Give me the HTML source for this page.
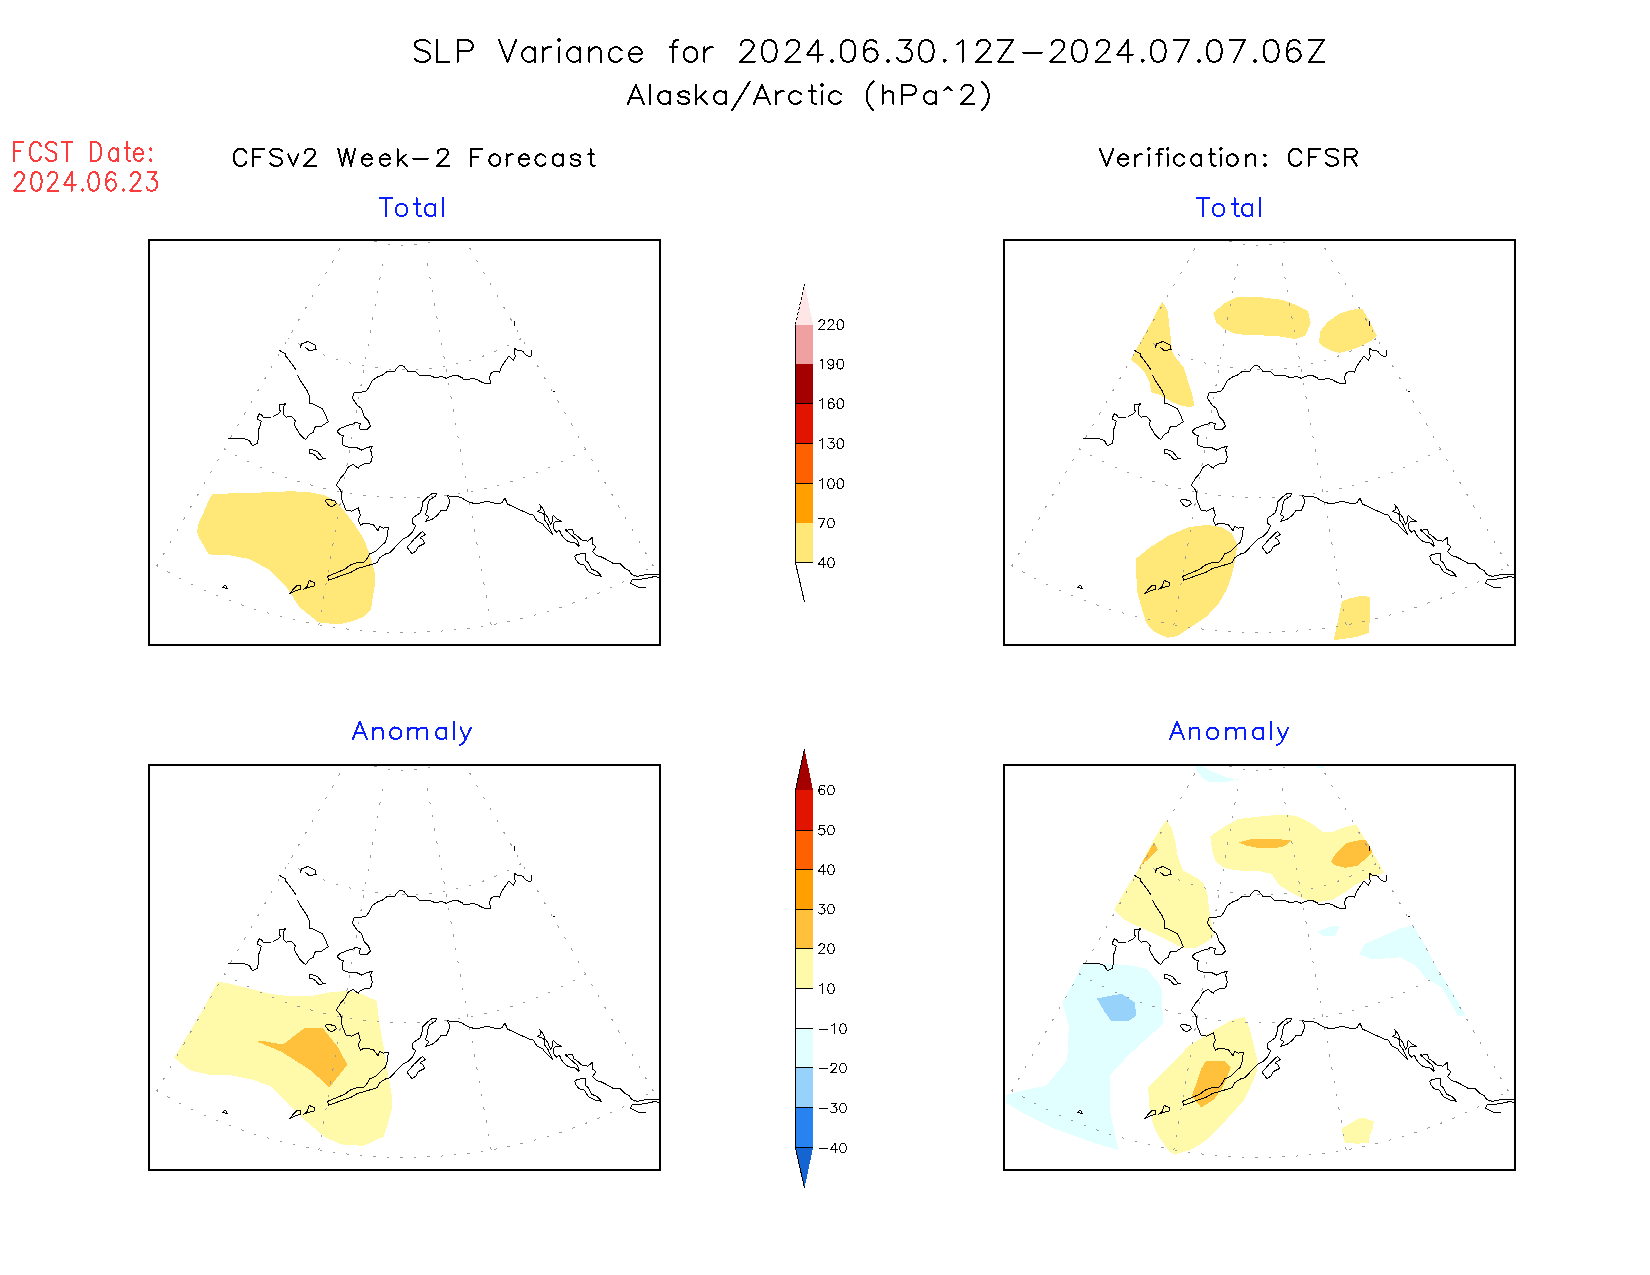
<!DOCTYPE html><html><head><meta charset="utf-8"><style>html,body{margin:0;padding:0;background:#fff;width:1650px;height:1275px;overflow:hidden}svg{display:block}</style></head><body>
<svg width="1650" height="1275" viewBox="0 0 1650 1275">
<rect width="1650" height="1275" fill="#fff"/>
<defs>
<clipPath id="cl"><rect x="150" y="241" width="509" height="403"/></clipPath>
<g id="grid" fill="none" stroke="#9a9a9a" stroke-width="1" stroke-dasharray="2.5 11" shape-rendering="crispEdges"><path d="M350.30,230.74 A109.4,109.4 0 0 0 459.70,230.74" stroke-dashoffset="0.85"/><path d="M288.20,338.30 A233.6,233.6 0 0 0 521.80,338.30" stroke-dashoffset="1.95"/><path d="M224.25,449.07 A361.5,361.5 0 0 0 585.75,449.07" stroke-dashoffset="1.05"/><path d="M156.80,565.90 A496.4,496.4 0 0 0 653.20,565.90" stroke-dashoffset="1.55"/><line x1="345.30" y1="239.40" x2="156.80" y2="565.90" stroke-dashoffset="2.8500000000000014"/><line x1="384.27" y1="253.59" x2="318.80" y2="624.86" stroke-dashoffset="2.9499999999999993"/><line x1="425.73" y1="253.59" x2="491.20" y2="624.86" stroke-dashoffset="3.75"/><line x1="464.70" y1="239.40" x2="653.20" y2="565.90" stroke-dashoffset="3.25"/></g>
<g id="coast" fill="none" stroke="#000" stroke-width="1" stroke-linejoin="round" shape-rendering="crispEdges"><polyline points="300.2,347.6 301.8,343.7 307.8,341.5 315.0,344.8 316.1,349.8 308.9,350.3 305.1,347.0"/><polyline points="279.3,350.3 283.1,352.5 285.3,353.6 285.9,356.4 289.2,360.2 295.8,369.5"/><polyline points="297.4,375.0 300.2,380.5 306.7,389.8 309.5,395.9 309.5,403.0 313.3,404.1 322.7,409.1 325.4,414.6 328.2,421.7 321.0,426.6 315.5,426.1 313.3,432.1 308.9,434.9 305.6,439.8 300.2,434.9 294.7,425.5 295.2,420.6 291.9,416.7 288.1,416.7 286.4,417.3 283.7,414.6 283.1,406.9 285.9,403.6 279.8,404.7 279.3,408.0 280.4,411.8 277.1,414.6 272.7,416.7"/><polyline points="270.5,417.3 263.4,417.3 261.2,414.6 259.5,413.5 257.3,417.8 257.9,419.5 261.2,421.1 260.6,424.4 258.4,430.0 257.9,443.1 252.4,445.8 249.6,440.9 243.6,438.2 228.2,438.2"/><polyline points="310.0,449.1 313.9,450.2 317.7,451.9 322.7,457.9 325.4,458.5 318.8,459.6 316.1,456.3 313.3,454.1 309.5,453.0 310.0,449.1"/><polyline points="531.4,350.0 531.4,356.0 527.5,356.0 524.8,353.8 522.6,351.1 517.1,350.0 514.4,348.3 514.4,353.8 515.5,356.0 513.3,360.4 508.9,356.0 501.7,366.4 499.5,372.5 497.9,371.4 493.5,371.4 490.7,373.6 489.6,378.0 490.7,383.5 485.3,383.5 479.8,381.3 477.0,379.3 471.0,378.2 469.3,379.3 463.3,379.3 462.3,377.8 456.8,375.2 450.8,376.3 446.4,378.3 442.0,376.7 434.3,377.4 430.5,375.6 419.5,375.2 415.6,371.5 408.0,371.5 403.6,366.2 399.7,365.1 395.3,369.5 394.8,371.5 387.1,371.5 382.7,375.0 377.8,376.7 372.3,380.5 369.0,387.1 366.2,390.9 361.8,392.0 354.2,392.6 352.5,398.1 357.5,405.8 361.3,408.0 364.0,416.2 368.4,421.1 370.6,426.1 367.3,429.4 360.2,429.4 359.1,426.1 360.7,423.9 355.8,422.2 353.1,423.9 347.6,425.5 340.4,428.3 337.1,431.6 340.4,434.9 343.7,436.0 342.1,438.7 342.6,444.8 345.4,446.4 349.8,447.5 357.5,448.0 361.8,450.2 367.3,447.5 372.3,446.4 370.6,449.7 372.3,457.4 370.6,462.9 365.2,463.6 359.6,466.2 358.1,468.3 352.9,464.4 348.0,467.4 345.0,473.2 340.6,478.1 336.2,485.3 339.5,488.5 341.2,491.8 341.7,499.5 346.1,510.5 352.2,511.1 358.2,507.8 360.4,514.9 358.2,519.8 360.4,525.3 363.1,523.7 368.6,523.7 373.6,524.8 378.0,530.8 379.6,526.4 383.5,528.1 388.4,527.5 387.8,530.8 387.3,536.3 385.6,541.8 375.8,551.1 369.7,553.9 366.4,559.4 363.7,562.1 357.1,562.7 349.4,565.4 345.6,568.7 343.4,569.8 327.5,576.4 328.5,580.2 351.6,572.0 357.1,568.7 371.9,564.3 376.9,562.7 379.6,557.7 386.7,553.3 390.0,552.8 395.5,546.7 403.8,538.5 407.6,536.9 412.6,531.9 415.8,525.3 412.0,523.1 412.0,519.3 414.2,517.1 420.2,512.7 421.9,508.3 422.7,501.8 428.2,496.4 432.1,493.6 436.5,493.6 435.4,496.4 429.9,499.6 428.2,501.8 427.7,508.4 425.5,514.5 428.8,516.7 425.5,521.6 432.1,519.4 437.6,515.0 441.4,510.1 446.4,510.1 449.1,504.0 449.1,499.6 447.5,495.3 450.2,496.9 454.0,496.4 457.9,496.4 462.8,498.5 468.3,501.8 476.0,504.0 482.6,502.4 487.5,501.3 495.8,503.5 501.8,502.9 505.1,498.0 507.3,504.0 512.2,506.2 516.6,508.4 526.5,512.8 530.0,514.4 532.5,514.4 533.8,515.9 536.6,520.6 537.7,521.4 542.6,523.6 544.3,526.1 553.1,535.1 552.0,532.9 548.1,524.7 544.8,520.3 544.3,514.8 542.6,513.2 539.6,512.4 537.4,511.5 539.9,510.2 540.4,508.2 541.0,506.6 539.3,504.4 541.5,506.6 543.7,509.9 544.5,513.2 548.1,518.1 550.3,524.2 552.2,522.0 552.5,517.0 553.3,515.4 556.9,518.9 561.6,521.4 555.3,521.4 553.3,524.2 553.3,528.0 555.5,531.3 556.4,532.4 556.9,531.3 559.6,530.5 561.6,535.1 566.5,540.6 570.4,542.3 574.5,542.3 578.9,546.4 579.4,545.6 576.7,539.3 575.0,538.4 568.4,532.4 564.6,529.4"/><polyline points="564.6,529.4 567.3,530.2 570.6,529.4 572.5,529.6 573.9,533.8 576.1,535.1 579.4,537.9 582.2,540.4 586.5,540.4 587.6,541.5 592.3,537.3 592.3,544.5 594.8,545.3 595.6,546.9 594.0,549.7 592.3,551.6 595.9,554.9 598.6,556.3 600.0,556.3 605.2,558.8 612.6,563.1 619.5,563.1 624.2,567.8 629.0,570.5 631.7,574.7 637.5,576.3 648.6,574.2 656.0,574.2 660.0,575.2"/><polyline points="574.5,556.2 577.1,554.6 585.1,553.0 585.1,560.4 587.7,562.0 592.0,569.4 597.2,571.5 601.5,576.3 595.6,575.2 588.2,571.5 584.5,565.2 578.7,563.6 576.1,559.9 574.5,556.2"/><polyline points="660.0,578.4 656.0,576.3 643.3,578.9 631.7,580.0 630.6,583.2 638.5,587.4 646.0,587.4"/><polyline points="422.4,531.4 425.2,534.7 419.7,538.0 422.4,539.1 424.6,543.5 418.0,546.7 415.8,551.1 412.0,553.9 407.1,547.3 414.2,539.1 422.4,531.4"/><polyline points="324.7,500.6 328.0,499.0 335.7,501.2 336.2,503.9 331.8,506.7 329.1,505.6 324.7,500.6"/><polyline points="289.3,593.8 294.9,587.4 297.5,585.2 300.5,585.6 300.5,589.1 294.9,591.2 289.3,593.8"/><polyline points="303.1,589.5 307.0,586.5 309.1,580.5 314.7,582.6 313.9,586.5 307.8,587.4 303.1,589.5"/><polyline points="222.4,587.4 225.4,585.2 227.6,588.7 222.4,587.4"/><polyline points="514.4,320.9 514.4,326.4"/><polyline points="553.3,392.2 554.5,391.2"/></g>
</defs>
<g transform="translate(0,0)">
<g clip-path="url(#cl)">
<polygon fill="#ffe878" points="212.2,494.2 236.8,493.1 274.2,492.2 290.0,491.2 309.0,492.2 320.0,494.2 325.3,495.7 336.2,501.7 343.9,510.5 354.0,523.6 363.9,539.2 370.9,557.5 375.2,574.5 374.5,587.2 372.4,599.9 370.9,609.8 363.9,616.8 352.6,621.1 341.3,623.9 329.4,623.6 318.2,622.3 299.2,606.8 286.3,586.9 275.9,576.1 269.1,569.7 249.6,559.1 230.0,555.3 208.8,554.4 199.5,538.7 197.0,531.9 198.2,524.3 202.9,514.1 207.2,503.9" shape-rendering="crispEdges"/>
<use href="#grid"/>
<use href="#coast"/>
</g>
<rect x="149" y="240" width="511" height="405" fill="none" stroke="#000" stroke-width="2"/>
</g>
<g transform="translate(855,0)">
<g clip-path="url(#cl)">
<polygon fill="#ffe878" points="307.5,301.8 312.5,310.5 314.1,322.7 315.7,337.5 317.4,352.2 321.5,358.7 328.8,367.7 332.1,378.4 337.0,393.1 339.5,406.2 333.7,407.0 325.5,405.4 319.0,402.9 310.0,398.0 304.3,394.7 296.1,392.3 294.5,381.6 289.5,371.8 283.0,365.3 275.6,359.5 279.7,352.2 287.9,337.5 296.1,322.7 303.5,308.0" shape-rendering="crispEdges"/>
<polygon fill="#ffe878" points="358.3,312.9 369.7,303.1 382.8,296.5 399.2,296.5 427.0,299.8 438.5,303.9 453.2,311.3 455.6,322.7 453.2,329.3 449.9,335.8 440.1,339.1 420.5,335.8 391.0,335.0 379.5,333.4 368.1,328.5 361.5,322.7" shape-rendering="crispEdges"/>
<polygon fill="#ffe878" points="463.8,342.4 465.5,330.9 472.8,321.9 484.3,313.7 497.4,309.6 507.2,308.8 513.7,319.5 521.9,335.8 515.4,341.5 503.9,347.3 494.1,350.5 484.3,353.0 476.1,350.5 467.9,346.5" shape-rendering="crispEdges"/>
<polygon fill="#ffe878" points="281.4,558.4 294.5,547.7 314.1,535.5 333.7,527.3 351.7,524.8 366.5,527.3 376.3,533.0 382.0,543.6 381.2,554.3 378.7,567.4 376.3,577.2 371.4,590.3 363.2,604.2 351.7,616.5 337.0,626.3 322.3,636.1 312.5,637.7 299.4,632.0 291.2,623.0 286.3,606.6 282.2,591.9 281.4,577.2" shape-rendering="crispEdges"/>
<polygon fill="#ffe878" points="477.7,643.0 482.6,623.0 486.7,601.7 494.1,598.5 505.6,596.0 515.4,596.8 515.4,613.2 513.7,632.8 502.3,636.9 491.0,638.5 478.6,640.2" shape-rendering="crispEdges"/>
<use href="#grid"/>
<use href="#coast"/>
</g>
<rect x="149" y="240" width="511" height="405" fill="none" stroke="#000" stroke-width="2"/>
</g>
<g transform="translate(0,525)">
<g clip-path="url(#cl)">
<polygon fill="#fffaaa" points="217.5,457.1 226.2,457.8 248.2,463.4 270.3,468.9 289.2,471.2 314.4,470.5 330.2,467.3 349.1,465.7 363.3,469.7 376.7,476.0 379.0,494.9 383.8,523.2 388.5,551.6 392.4,573.7 391.6,584.7 386.9,602.0 383.8,611.5 363.3,620.9 341.2,619.4 323.9,611.5 301.8,592.6 282.9,573.7 270.3,561.1 253.0,554.8 229.3,550.0 210.4,550.0 189.9,545.3 174.2,532.7 183.6,516.9 202.5,485.4" shape-rendering="crispEdges"/>
<polygon fill="#ffc03c" points="258.0,516.3 264.7,516.3 278.0,518.7 284.0,518.7 304.7,503.0 322.7,503.0 338.0,522.3 347.3,539.7 329.3,562.7 311.3,545.7 282.0,527.0 258.0,517.0" shape-rendering="crispEdges"/>
<use href="#grid"/>
<use href="#coast"/>
</g>
<rect x="149" y="240" width="511" height="405" fill="none" stroke="#000" stroke-width="2"/>
</g>
<g transform="translate(855,525)">
<g clip-path="url(#cl)">
<polygon fill="#fffaaa" points="311.5,295.1 316.5,302.6 320.3,316.4 322.8,331.5 327.8,345.3 342.9,353.4 347.9,357.8 352.3,367.9 354.2,385.5 358.0,405.5 359.2,410.6 353.0,416.2 340.4,423.1 326.6,422.5 315.3,416.8 297.7,408.0 281.4,400.5 268.8,394.2 258.8,384.8 270.1,365.4 282.7,345.3 297.7,316.4 305.2,303.9" shape-rendering="crispEdges"/>
<polygon fill="#ffc03c" points="283.3,344.0 291.4,330.2 299.0,317.0 302.7,324.6 297.7,330.2 288.9,337.8" shape-rendering="crispEdges"/>
<polygon fill="#fffaaa" points="355.3,311.4 369.2,301.7 383.8,293.8 411.7,290.8 427.4,289.8 440.8,290.8 454.1,296.8 467.4,306.5 478.3,306.8 490.5,301.7 501.4,299.8 514.7,322.3 529.2,347.7 520.8,350.8 514.7,352.6 500.2,359.8 490.5,367.1 478.3,374.4 463.8,376.8 451.7,375.6 437.1,368.3 423.8,359.8 416.5,348.9 405.6,346.5 381.4,345.3 369.2,342.9 360.8,336.8 357.1,325.9" shape-rendering="crispEdges"/>
<polygon fill="#ffc03c" points="383.8,317.4 395.9,314.4 417.7,314.0 437.1,315.0 429.8,321.1 417.7,323.5 403.2,322.9 391.1,320.5" shape-rendering="crispEdges"/>
<polygon fill="#ffc03c" points="475.9,336.8 480.8,328.3 490.5,318.6 501.4,315.6 511.1,315.0 517.7,327.1 512.3,332.6 502.6,340.5 490.5,342.9 480.8,340.5" shape-rendering="crispEdges"/>
<polygon fill="#e1ffff" points="227.1,439.0 256.7,439.0 276.5,440.6 291.3,443.9 302.8,456.3 307.0,464.5 307.8,499.1 291.3,514.0 273.2,530.4 255.1,550.2 255.1,586.4 263.3,625.1 238.6,617.7 197.4,602.9 167.8,588.1 150.5,577.4 151.3,570.0 169.4,565.0 190.8,560.9 212.2,535.4 213.9,500.8 207.3,477.7 217.2,459.6" shape-rendering="crispEdges"/>
<polygon fill="#96d2fa" points="241.9,473.6 266.6,468.7 279.8,477.7 281.4,490.9 274.0,495.8 255.9,495.8 248.5,485.1" shape-rendering="crispEdges"/>
<polygon fill="#fffaaa" points="389.7,492.1 394.4,502.6 397.9,516.8 402.6,536.8 401.5,547.4 395.6,561.5 388.5,575.6 379.1,586.2 367.4,599.1 350.9,615.6 335.6,625.0 319.1,629.7 312.1,623.8 302.6,609.7 297.9,599.1 294.4,581.5 293.2,562.6 302.6,553.2 317.9,537.9 334.4,520.3 350.9,510.3 367.4,500.3 375.6,495.6 383.8,493.2" shape-rendering="crispEdges"/>
<polygon fill="#ffc03c" points="350.9,536.2 369.7,536.2 375.6,542.6 372.1,552.1 367.4,562.6 359.1,574.4 346.2,582.6 336.8,570.9 341.5,557.9 346.2,543.8" shape-rendering="crispEdges"/>
<polygon fill="#e1ffff" points="509.4,419.2 526.8,411.5 545.4,403.4 558.5,400.6 571.5,423.0 583.5,445.9 592.3,459.0 610.8,490.1 603.2,491.2 586.8,462.3 571.5,453.5 560.6,440.5 545.4,432.3 534.5,433.4 515.9,433.9 504.5,429.5" shape-rendering="crispEdges"/>
<polygon fill="#e1ffff" points="462.5,406.6 476.6,401.2 484.8,401.2 479.9,411.5 466.8,410.5" shape-rendering="crispEdges"/>
<polygon fill="#e1ffff" points="340.5,241.0 347.3,241.0 358.0,247.1 373.5,252.9 384.2,254.4 371.5,256.8 354.1,256.8 348.3,253.9 340.5,243.7" shape-rendering="crispEdges"/>
<polygon fill="#e1ffff" points="459.3,243.2 463.7,241.0 468.5,241.0 469.0,243.2" shape-rendering="crispEdges"/>
<polygon fill="#fffaaa" points="487.0,603.2 490.3,601.3 497.9,596.9 504.5,593.1 510.0,593.1 512.8,594.4 518.8,596.4 517.7,603.0 515.0,610.6 513.6,618.3 501.2,618.6 490.3,617.8 488.6,613.9 487.2,606.8" shape-rendering="crispEdges"/>
<use href="#grid"/>
<use href="#coast"/>
</g>
<rect x="149" y="240" width="511" height="405" fill="none" stroke="#000" stroke-width="2"/>
</g>
<g style="font-family:'Liberation Sans', sans-serif" fill="#000">
<rect x="796" y="324.5" width="17" height="39.5" fill="#f0a0a0"/><rect x="796" y="364.0" width="17" height="39.5" fill="#a50000"/><rect x="796" y="403.5" width="17" height="40.0" fill="#e11400"/><rect x="796" y="443.5" width="17" height="40.0" fill="#ff6000"/><rect x="796" y="483.5" width="17" height="39.5" fill="#ffa000"/><rect x="796" y="523.0" width="17" height="40.0" fill="#ffe878"/><polygon points="795,324.5 813,324.5 804.5,284" fill="#ffe6e6" shape-rendering="crispEdges"/><polygon points="795,563 813,563 804.5,602" fill="#ffffff" shape-rendering="crispEdges"/><line x1="795.5" y1="324.5" x2="795.5" y2="563" stroke="#000" stroke-width="1"/><line x1="795.5" y1="324.5" x2="804.5" y2="284" stroke="#000" stroke-width="1" stroke-dasharray="3 2" shape-rendering="crispEdges"/><line x1="795.5" y1="563" x2="804.5" y2="602" stroke="#000" stroke-width="1" shape-rendering="crispEdges"/><line x1="795" y1="403.5" x2="813" y2="403.5" stroke="#000" stroke-width="1"/><line x1="795" y1="443.5" x2="813" y2="443.5" stroke="#000" stroke-width="1"/><line x1="795" y1="483.5" x2="813" y2="483.5" stroke="#000" stroke-width="1"/><line x1="795" y1="562.5" x2="813" y2="562.5" stroke="#000" stroke-width="1"/><path d="M818.99 322.08 L818.99 321.62 L819.45 320.70 L819.91 320.23 L820.84 319.77 L822.68 319.77 L823.61 320.23 L824.07 320.70 L824.53 321.62 L824.53 322.54 L824.07 323.47 L823.15 324.85 L818.52 329.48 L824.99 329.48M828.23 322.08 L828.23 321.62 L828.69 320.70 L829.15 320.23 L830.08 319.77 L831.92 319.77 L832.85 320.23 L833.31 320.70 L833.77 321.62 L833.77 322.54 L833.31 323.47 L832.39 324.85 L827.77 329.48 L834.23 329.48M839.78 319.77 L838.39 320.23 L837.47 321.62 L837.01 323.93 L837.01 325.32 L837.47 327.63 L838.39 329.01 L839.78 329.48 L840.70 329.48 L842.09 329.01 L843.01 327.63 L843.48 325.32 L843.48 323.93 L843.01 321.62 L842.09 320.23 L840.70 319.77 L839.78 319.77" fill="none" stroke="#000" stroke-width="1.05" stroke-linecap="round" stroke-linejoin="round" shape-rendering="crispEdges"/><path d="M819.91 361.12 L820.84 360.66 L822.22 359.27 L822.22 368.98M833.77 362.51 L833.31 363.89 L832.39 364.82 L831.00 365.28 L830.54 365.28 L829.15 364.82 L828.23 363.89 L827.77 362.51 L827.77 362.04 L828.23 360.66 L829.15 359.73 L830.54 359.27 L831.00 359.27 L832.39 359.73 L833.31 360.66 L833.77 362.51 L833.77 364.82 L833.31 367.13 L832.39 368.51 L831.00 368.98 L830.08 368.98 L828.69 368.51 L828.23 367.59M839.78 359.27 L838.39 359.73 L837.47 361.12 L837.01 363.43 L837.01 364.82 L837.47 367.13 L838.39 368.51 L839.78 368.98 L840.70 368.98 L842.09 368.51 L843.01 367.13 L843.48 364.82 L843.48 363.43 L843.01 361.12 L842.09 359.73 L840.70 359.27 L839.78 359.27" fill="none" stroke="#000" stroke-width="1.05" stroke-linecap="round" stroke-linejoin="round" shape-rendering="crispEdges"/><path d="M819.91 400.62 L820.84 400.16 L822.22 398.77 L822.22 408.48M833.77 400.16 L833.31 399.23 L831.92 398.77 L831.00 398.77 L829.61 399.23 L828.69 400.62 L828.23 402.93 L828.23 405.24 L828.69 407.09 L829.61 408.01 L831.00 408.48 L831.46 408.48 L832.85 408.01 L833.77 407.09 L834.23 405.70 L834.23 405.24 L833.77 403.85 L832.85 402.93 L831.46 402.47 L831.00 402.47 L829.61 402.93 L828.69 403.85 L828.23 405.24M839.78 398.77 L838.39 399.23 L837.47 400.62 L837.01 402.93 L837.01 404.32 L837.47 406.63 L838.39 408.01 L839.78 408.48 L840.70 408.48 L842.09 408.01 L843.01 406.63 L843.48 404.32 L843.48 402.93 L843.01 400.62 L842.09 399.23 L840.70 398.77 L839.78 398.77" fill="none" stroke="#000" stroke-width="1.05" stroke-linecap="round" stroke-linejoin="round" shape-rendering="crispEdges"/><path d="M819.91 440.62 L820.84 440.16 L822.22 438.77 L822.22 448.48M828.69 438.77 L833.77 438.77 L831.00 442.47 L832.39 442.47 L833.31 442.93 L833.77 443.39 L834.23 444.78 L834.23 445.70 L833.77 447.09 L832.85 448.01 L831.46 448.48 L830.08 448.48 L828.69 448.01 L828.23 447.55 L827.77 446.63M839.78 438.77 L838.39 439.23 L837.47 440.62 L837.01 442.93 L837.01 444.32 L837.47 446.63 L838.39 448.01 L839.78 448.48 L840.70 448.48 L842.09 448.01 L843.01 446.63 L843.48 444.32 L843.48 442.93 L843.01 440.62 L842.09 439.23 L840.70 438.77 L839.78 438.77" fill="none" stroke="#000" stroke-width="1.05" stroke-linecap="round" stroke-linejoin="round" shape-rendering="crispEdges"/><path d="M819.91 480.62 L820.84 480.16 L822.22 478.77 L822.22 488.48M830.54 478.77 L829.15 479.23 L828.23 480.62 L827.77 482.93 L827.77 484.32 L828.23 486.63 L829.15 488.01 L830.54 488.48 L831.46 488.48 L832.85 488.01 L833.77 486.63 L834.23 484.32 L834.23 482.93 L833.77 480.62 L832.85 479.23 L831.46 478.77 L830.54 478.77M839.78 478.77 L838.39 479.23 L837.47 480.62 L837.01 482.93 L837.01 484.32 L837.47 486.63 L838.39 488.01 L839.78 488.48 L840.70 488.48 L842.09 488.01 L843.01 486.63 L843.48 484.32 L843.48 482.93 L843.01 480.62 L842.09 479.23 L840.70 478.77 L839.78 478.77" fill="none" stroke="#000" stroke-width="1.05" stroke-linecap="round" stroke-linejoin="round" shape-rendering="crispEdges"/><path d="M824.99 518.27 L820.37 527.98M818.52 518.27 L824.99 518.27M830.54 518.27 L829.15 518.73 L828.23 520.12 L827.77 522.43 L827.77 523.82 L828.23 526.13 L829.15 527.51 L830.54 527.98 L831.46 527.98 L832.85 527.51 L833.77 526.13 L834.23 523.82 L834.23 522.43 L833.77 520.12 L832.85 518.73 L831.46 518.27 L830.54 518.27" fill="none" stroke="#000" stroke-width="1.05" stroke-linecap="round" stroke-linejoin="round" shape-rendering="crispEdges"/><path d="M823.15 557.77 L818.52 564.24 L825.46 564.24M823.15 557.77 L823.15 567.48M830.54 557.77 L829.15 558.23 L828.23 559.62 L827.77 561.93 L827.77 563.32 L828.23 565.63 L829.15 567.01 L830.54 567.48 L831.46 567.48 L832.85 567.01 L833.77 565.63 L834.23 563.32 L834.23 561.93 L833.77 559.62 L832.85 558.23 L831.46 557.77 L830.54 557.77" fill="none" stroke="#000" stroke-width="1.05" stroke-linecap="round" stroke-linejoin="round" shape-rendering="crispEdges"/>
<rect x="796" y="790.0" width="17" height="40.0" fill="#e11400"/><rect x="796" y="830.0" width="17" height="39.5" fill="#ff6000"/><rect x="796" y="869.5" width="17" height="39.5" fill="#ffa000"/><rect x="796" y="909.0" width="17" height="39.5" fill="#ffc03c"/><rect x="796" y="948.5" width="17" height="40.0" fill="#fffaaa"/><rect x="796" y="1028.5" width="17" height="39.5" fill="#e1ffff"/><rect x="796" y="1068.0" width="17" height="40.0" fill="#96d2fa"/><rect x="796" y="1108.0" width="17" height="40.0" fill="#2882f0"/><polygon points="795,790 813,790 804.5,749" fill="#a50000" shape-rendering="crispEdges"/><polygon points="795,1148 813,1148 804.5,1188" fill="#1464d2" shape-rendering="crispEdges"/><line x1="795.5" y1="790" x2="795.5" y2="1148" stroke="#000" stroke-width="1"/><line x1="795.5" y1="790" x2="804.5" y2="749" stroke="#000" stroke-width="1" shape-rendering="crispEdges"/><line x1="795.5" y1="1148" x2="804.5" y2="1188" stroke="#000" stroke-width="1" shape-rendering="crispEdges"/><line x1="795" y1="830.5" x2="813" y2="830.5" stroke="#000" stroke-width="1"/><line x1="795" y1="869.5" x2="813" y2="869.5" stroke="#000" stroke-width="1"/><line x1="795" y1="909.5" x2="813" y2="909.5" stroke="#000" stroke-width="1"/><line x1="795" y1="948.5" x2="813" y2="948.5" stroke="#000" stroke-width="1"/><line x1="795" y1="988.5" x2="813" y2="988.5" stroke="#000" stroke-width="1"/><line x1="795" y1="1028.5" x2="813" y2="1028.5" stroke="#000" stroke-width="1"/><line x1="795" y1="1067.5" x2="813" y2="1067.5" stroke="#000" stroke-width="1"/><line x1="795" y1="1107.5" x2="813" y2="1107.5" stroke="#000" stroke-width="1"/><line x1="795" y1="1147.5" x2="813" y2="1147.5" stroke="#000" stroke-width="1"/><path d="M824.53 786.66 L824.07 785.73 L822.68 785.27 L821.76 785.27 L820.37 785.73 L819.45 787.12 L818.99 789.43 L818.99 791.74 L819.45 793.59 L820.37 794.51 L821.76 794.98 L822.22 794.98 L823.61 794.51 L824.53 793.59 L824.99 792.20 L824.99 791.74 L824.53 790.35 L823.61 789.43 L822.22 788.97 L821.76 788.97 L820.37 789.43 L819.45 790.35 L818.99 791.74M830.54 785.27 L829.15 785.73 L828.23 787.12 L827.77 789.43 L827.77 790.82 L828.23 793.13 L829.15 794.51 L830.54 794.98 L831.46 794.98 L832.85 794.51 L833.77 793.13 L834.23 790.82 L834.23 789.43 L833.77 787.12 L832.85 785.73 L831.46 785.27 L830.54 785.27" fill="none" stroke="#000" stroke-width="1.05" stroke-linecap="round" stroke-linejoin="round" shape-rendering="crispEdges"/><path d="M824.07 825.27 L819.45 825.27 L818.99 829.43 L819.45 828.97 L820.84 828.51 L822.22 828.51 L823.61 828.97 L824.53 829.89 L824.99 831.28 L824.99 832.20 L824.53 833.59 L823.61 834.51 L822.22 834.98 L820.84 834.98 L819.45 834.51 L818.99 834.05 L818.52 833.13M830.54 825.27 L829.15 825.73 L828.23 827.12 L827.77 829.43 L827.77 830.82 L828.23 833.13 L829.15 834.51 L830.54 834.98 L831.46 834.98 L832.85 834.51 L833.77 833.13 L834.23 830.82 L834.23 829.43 L833.77 827.12 L832.85 825.73 L831.46 825.27 L830.54 825.27" fill="none" stroke="#000" stroke-width="1.05" stroke-linecap="round" stroke-linejoin="round" shape-rendering="crispEdges"/><path d="M823.15 864.77 L818.52 871.24 L825.46 871.24M823.15 864.77 L823.15 874.48M830.54 864.77 L829.15 865.23 L828.23 866.62 L827.77 868.93 L827.77 870.32 L828.23 872.63 L829.15 874.01 L830.54 874.48 L831.46 874.48 L832.85 874.01 L833.77 872.63 L834.23 870.32 L834.23 868.93 L833.77 866.62 L832.85 865.23 L831.46 864.77 L830.54 864.77" fill="none" stroke="#000" stroke-width="1.05" stroke-linecap="round" stroke-linejoin="round" shape-rendering="crispEdges"/><path d="M819.45 904.27 L824.53 904.27 L821.76 907.97 L823.15 907.97 L824.07 908.43 L824.53 908.89 L824.99 910.28 L824.99 911.20 L824.53 912.59 L823.61 913.51 L822.22 913.98 L820.84 913.98 L819.45 913.51 L818.99 913.05 L818.52 912.13M830.54 904.27 L829.15 904.73 L828.23 906.12 L827.77 908.43 L827.77 909.82 L828.23 912.13 L829.15 913.51 L830.54 913.98 L831.46 913.98 L832.85 913.51 L833.77 912.13 L834.23 909.82 L834.23 908.43 L833.77 906.12 L832.85 904.73 L831.46 904.27 L830.54 904.27" fill="none" stroke="#000" stroke-width="1.05" stroke-linecap="round" stroke-linejoin="round" shape-rendering="crispEdges"/><path d="M818.99 946.08 L818.99 945.62 L819.45 944.70 L819.91 944.23 L820.84 943.77 L822.68 943.77 L823.61 944.23 L824.07 944.70 L824.53 945.62 L824.53 946.54 L824.07 947.47 L823.15 948.85 L818.52 953.48 L824.99 953.48M830.54 943.77 L829.15 944.23 L828.23 945.62 L827.77 947.93 L827.77 949.32 L828.23 951.63 L829.15 953.01 L830.54 953.48 L831.46 953.48 L832.85 953.01 L833.77 951.63 L834.23 949.32 L834.23 947.93 L833.77 945.62 L832.85 944.23 L831.46 943.77 L830.54 943.77" fill="none" stroke="#000" stroke-width="1.05" stroke-linecap="round" stroke-linejoin="round" shape-rendering="crispEdges"/><path d="M819.91 985.62 L820.84 985.16 L822.22 983.77 L822.22 993.48M830.54 983.77 L829.15 984.23 L828.23 985.62 L827.77 987.93 L827.77 989.32 L828.23 991.63 L829.15 993.01 L830.54 993.48 L831.46 993.48 L832.85 993.01 L833.77 991.63 L834.23 989.32 L834.23 987.93 L833.77 985.62 L832.85 984.23 L831.46 983.77 L830.54 983.77" fill="none" stroke="#000" stroke-width="1.05" stroke-linecap="round" stroke-linejoin="round" shape-rendering="crispEdges"/><path d="M818.99 1029.32 L827.30 1029.32M831.92 1025.62 L832.85 1025.16 L834.23 1023.77 L834.23 1033.47M842.55 1023.77 L841.16 1024.23 L840.24 1025.62 L839.78 1027.93 L839.78 1029.32 L840.24 1031.63 L841.16 1033.01 L842.55 1033.47 L843.48 1033.47 L844.86 1033.01 L845.79 1031.63 L846.25 1029.32 L846.25 1027.93 L845.79 1025.62 L844.86 1024.23 L843.48 1023.77 L842.55 1023.77" fill="none" stroke="#000" stroke-width="1.05" stroke-linecap="round" stroke-linejoin="round" shape-rendering="crispEdges"/><path d="M818.99 1068.82 L827.30 1068.82M831.00 1065.58 L831.00 1065.12 L831.46 1064.20 L831.92 1063.73 L832.85 1063.27 L834.70 1063.27 L835.62 1063.73 L836.08 1064.20 L836.54 1065.12 L836.54 1066.04 L836.08 1066.97 L835.16 1068.35 L830.54 1072.97 L837.01 1072.97M842.55 1063.27 L841.16 1063.73 L840.24 1065.12 L839.78 1067.43 L839.78 1068.82 L840.24 1071.13 L841.16 1072.51 L842.55 1072.97 L843.48 1072.97 L844.86 1072.51 L845.79 1071.13 L846.25 1068.82 L846.25 1067.43 L845.79 1065.12 L844.86 1063.73 L843.48 1063.27 L842.55 1063.27" fill="none" stroke="#000" stroke-width="1.05" stroke-linecap="round" stroke-linejoin="round" shape-rendering="crispEdges"/><path d="M818.99 1108.82 L827.30 1108.82M831.46 1103.27 L836.54 1103.27 L833.77 1106.97 L835.16 1106.97 L836.08 1107.43 L836.54 1107.89 L837.01 1109.28 L837.01 1110.20 L836.54 1111.59 L835.62 1112.51 L834.23 1112.97 L832.85 1112.97 L831.46 1112.51 L831.00 1112.05 L830.54 1111.13M842.55 1103.27 L841.16 1103.73 L840.24 1105.12 L839.78 1107.43 L839.78 1108.82 L840.24 1111.13 L841.16 1112.51 L842.55 1112.97 L843.48 1112.97 L844.86 1112.51 L845.79 1111.13 L846.25 1108.82 L846.25 1107.43 L845.79 1105.12 L844.86 1103.73 L843.48 1103.27 L842.55 1103.27" fill="none" stroke="#000" stroke-width="1.05" stroke-linecap="round" stroke-linejoin="round" shape-rendering="crispEdges"/><path d="M818.99 1148.82 L827.30 1148.82M835.16 1143.27 L830.54 1149.74 L837.47 1149.74M835.16 1143.27 L835.16 1152.97M842.55 1143.27 L841.16 1143.73 L840.24 1145.12 L839.78 1147.43 L839.78 1148.82 L840.24 1151.13 L841.16 1152.51 L842.55 1152.97 L843.48 1152.97 L844.86 1152.51 L845.79 1151.13 L846.25 1148.82 L846.25 1147.43 L845.79 1145.12 L844.86 1143.73 L843.48 1143.27 L842.55 1143.27" fill="none" stroke="#000" stroke-width="1.05" stroke-linecap="round" stroke-linejoin="round" shape-rendering="crispEdges"/>
</g>
<path d="M429.74 43.20 L427.62 41.13 L424.44 40.10 L420.20 40.10 L417.02 41.13 L414.90 43.20 L414.90 45.27 L415.96 47.33 L417.02 48.37 L419.14 49.40 L425.50 51.47 L427.62 52.50 L428.68 53.53 L429.74 55.60 L429.74 58.70 L427.62 60.77 L424.44 61.80 L420.20 61.80 L417.02 60.77 L414.90 58.70M436.80 40.10 L436.80 61.80M436.80 61.80 L449.52 61.80M457.70 40.10 L457.70 61.80M457.70 40.10 L467.24 40.10 L470.42 41.13 L471.48 42.17 L472.54 44.23 L472.54 47.33 L471.48 49.40 L470.42 50.43 L467.24 51.47 L457.70 51.47M499.10 40.10 L507.58 61.80M516.06 40.10 L507.58 61.80M534.82 47.33 L534.82 61.80M534.82 50.43 L532.70 48.37 L530.58 47.33 L527.40 47.33 L525.28 48.37 L523.16 50.43 L522.10 53.53 L522.10 55.60 L523.16 58.70 L525.28 60.77 L527.40 61.80 L530.58 61.80 L532.70 60.77 L534.82 58.70M542.70 47.33 L542.70 61.80M542.70 53.53 L543.76 50.43 L545.88 48.37 L548.00 47.33 L551.18 47.33M558.10 40.10 L559.16 41.13 L560.22 40.10 L559.16 39.07 L558.10 40.10M559.16 47.33 L559.16 61.80M579.82 47.33 L579.82 61.80M579.82 50.43 L577.70 48.37 L575.58 47.33 L572.40 47.33 L570.28 48.37 L568.16 50.43 L567.10 53.53 L567.10 55.60 L568.16 58.70 L570.28 60.77 L572.40 61.80 L575.58 61.80 L577.70 60.77 L579.82 58.70M589.40 47.33 L589.40 61.80M589.40 51.47 L592.58 48.37 L594.70 47.33 L597.88 47.33 L600.00 48.37 L601.06 51.47 L601.06 61.80M621.62 50.43 L619.50 48.37 L617.38 47.33 L614.20 47.33 L612.08 48.37 L609.96 50.43 L608.90 53.53 L608.90 55.60 L609.96 58.70 L612.08 60.77 L614.20 61.80 L617.38 61.80 L619.50 60.77 L621.62 58.70M629.00 53.53 L641.72 53.53 L641.72 51.47 L640.66 49.40 L639.60 48.37 L637.48 47.33 L634.30 47.33 L632.18 48.37 L630.06 50.43 L629.00 53.53 L629.00 55.60 L630.06 58.70 L632.18 60.77 L634.30 61.80 L637.48 61.80 L639.60 60.77 L641.72 58.70M678.28 40.10 L676.16 40.10 L674.04 41.13 L672.98 44.23 L672.98 61.80M669.80 47.33 L677.22 47.33M689.00 47.33 L686.88 48.37 L684.76 50.43 L683.70 53.53 L683.70 55.60 L684.76 58.70 L686.88 60.77 L689.00 61.80 L692.18 61.80 L694.30 60.77 L696.42 58.70 L697.48 55.60 L697.48 53.53 L696.42 50.43 L694.30 48.37 L692.18 47.33 L689.00 47.33M704.40 47.33 L704.40 61.80M704.40 53.53 L705.46 50.43 L707.58 48.37 L709.70 47.33 L712.88 47.33M740.86 45.27 L740.86 44.23 L741.92 42.17 L742.98 41.13 L745.10 40.10 L749.34 40.10 L751.46 41.13 L752.52 42.17 L753.58 44.23 L753.58 46.30 L752.52 48.37 L750.40 51.47 L739.80 61.80 L754.64 61.80M768.16 40.10 L764.98 41.13 L762.86 44.23 L761.80 49.40 L761.80 52.50 L762.86 57.67 L764.98 60.77 L768.16 61.80 L770.28 61.80 L773.46 60.77 L775.58 57.67 L776.64 52.50 L776.64 49.40 L775.58 44.23 L773.46 41.13 L770.28 40.10 L768.16 40.10M786.56 45.27 L786.56 44.23 L787.62 42.17 L788.68 41.13 L790.80 40.10 L795.04 40.10 L797.16 41.13 L798.22 42.17 L799.28 44.23 L799.28 46.30 L798.22 48.37 L796.10 51.47 L785.50 61.80 L800.34 61.80M817.70 40.10 L807.10 54.57 L823.00 54.57M817.70 40.10 L817.70 61.80M831.86 59.73 L830.80 60.77 L831.86 61.80 L832.92 60.77 L831.86 59.73M846.86 40.10 L843.68 41.13 L841.56 44.23 L840.50 49.40 L840.50 52.50 L841.56 57.67 L843.68 60.77 L846.86 61.80 L848.98 61.80 L852.16 60.77 L854.28 57.67 L855.34 52.50 L855.34 49.40 L854.28 44.23 L852.16 41.13 L848.98 40.10 L846.86 40.10M876.52 43.20 L875.46 41.13 L872.28 40.10 L870.16 40.10 L866.98 41.13 L864.86 44.23 L863.80 49.40 L863.80 54.57 L864.86 58.70 L866.98 60.77 L870.16 61.80 L871.22 61.80 L874.40 60.77 L876.52 58.70 L877.58 55.60 L877.58 54.57 L876.52 51.47 L874.40 49.40 L871.22 48.37 L870.16 48.37 L866.98 49.40 L864.86 51.47 L863.80 54.57M887.86 59.73 L886.80 60.77 L887.86 61.80 L888.92 60.77 L887.86 59.73M899.32 40.10 L910.98 40.10 L904.62 48.37 L907.80 48.37 L909.92 49.40 L910.98 50.43 L912.04 53.53 L912.04 55.60 L910.98 58.70 L908.86 60.77 L905.68 61.80 L902.50 61.80 L899.32 60.77 L898.26 59.73 L897.20 57.67M925.16 40.10 L921.98 41.13 L919.86 44.23 L918.80 49.40 L918.80 52.50 L919.86 57.67 L921.98 60.77 L925.16 61.80 L927.28 61.80 L930.46 60.77 L932.58 57.67 L933.64 52.50 L933.64 49.40 L932.58 44.23 L930.46 41.13 L927.28 40.10 L925.16 40.10M944.66 59.73 L943.60 60.77 L944.66 61.80 L945.72 60.77 L944.66 59.73M957.20 44.23 L959.32 43.20 L962.50 40.10 L962.50 61.80M977.06 45.27 L977.06 44.23 L978.12 42.17 L979.18 41.13 L981.30 40.10 L985.54 40.10 L987.66 41.13 L988.72 42.17 L989.78 44.23 L989.78 46.30 L988.72 48.37 L986.60 51.47 L976.00 61.80 L990.84 61.80M1013.14 40.10 L998.30 61.80M998.30 40.10 L1013.14 40.10M998.30 61.80 L1013.14 61.80M1022.70 52.50 L1041.78 52.50M1051.56 45.27 L1051.56 44.23 L1052.62 42.17 L1053.68 41.13 L1055.80 40.10 L1060.04 40.10 L1062.16 41.13 L1063.22 42.17 L1064.28 44.23 L1064.28 46.30 L1063.22 48.37 L1061.10 51.47 L1050.50 61.80 L1065.34 61.80M1078.26 40.10 L1075.08 41.13 L1072.96 44.23 L1071.90 49.40 L1071.90 52.50 L1072.96 57.67 L1075.08 60.77 L1078.26 61.80 L1080.38 61.80 L1083.56 60.77 L1085.68 57.67 L1086.74 52.50 L1086.74 49.40 L1085.68 44.23 L1083.56 41.13 L1080.38 40.10 L1078.26 40.10M1096.66 45.27 L1096.66 44.23 L1097.72 42.17 L1098.78 41.13 L1100.90 40.10 L1105.14 40.10 L1107.26 41.13 L1108.32 42.17 L1109.38 44.23 L1109.38 46.30 L1108.32 48.37 L1106.20 51.47 L1095.60 61.80 L1110.44 61.80M1128.00 40.10 L1117.40 54.57 L1133.30 54.57M1128.00 40.10 L1128.00 61.80M1142.66 59.73 L1141.60 60.77 L1142.66 61.80 L1143.72 60.77 L1142.66 59.73M1157.16 40.10 L1153.98 41.13 L1151.86 44.23 L1150.80 49.40 L1150.80 52.50 L1151.86 57.67 L1153.98 60.77 L1157.16 61.80 L1159.28 61.80 L1162.46 60.77 L1164.58 57.67 L1165.64 52.50 L1165.64 49.40 L1164.58 44.23 L1162.46 41.13 L1159.28 40.10 L1157.16 40.10M1188.94 40.10 L1178.34 61.80M1174.10 40.10 L1188.94 40.10M1198.86 59.73 L1197.80 60.77 L1198.86 61.80 L1199.92 60.77 L1198.86 59.73M1213.26 40.10 L1210.08 41.13 L1207.96 44.23 L1206.90 49.40 L1206.90 52.50 L1207.96 57.67 L1210.08 60.77 L1213.26 61.80 L1215.38 61.80 L1218.56 60.77 L1220.68 57.67 L1221.74 52.50 L1221.74 49.40 L1220.68 44.23 L1218.56 41.13 L1215.38 40.10 L1213.26 40.10M1244.74 40.10 L1234.14 61.80M1229.90 40.10 L1244.74 40.10M1254.86 59.73 L1253.80 60.77 L1254.86 61.80 L1255.92 60.77 L1254.86 59.73M1270.06 40.10 L1266.88 41.13 L1264.76 44.23 L1263.70 49.40 L1263.70 52.50 L1264.76 57.67 L1266.88 60.77 L1270.06 61.80 L1272.18 61.80 L1275.36 60.77 L1277.48 57.67 L1278.54 52.50 L1278.54 49.40 L1277.48 44.23 L1275.36 41.13 L1272.18 40.10 L1270.06 40.10M1299.72 43.20 L1298.66 41.13 L1295.48 40.10 L1293.36 40.10 L1290.18 41.13 L1288.06 44.23 L1287.00 49.40 L1287.00 54.57 L1288.06 58.70 L1290.18 60.77 L1293.36 61.80 L1294.42 61.80 L1297.60 60.77 L1299.72 58.70 L1300.78 55.60 L1300.78 54.57 L1299.72 51.47 L1297.60 49.40 L1294.42 48.37 L1293.36 48.37 L1290.18 49.40 L1288.06 51.47 L1287.00 54.57M1323.94 40.10 L1309.10 61.80M1309.10 40.10 L1323.94 40.10M1309.10 61.80 L1323.94 61.80" fill="none" stroke="#000" stroke-width="2.0" stroke-linecap="round" stroke-linejoin="round" shape-rendering="crispEdges"/>
<path d="M635.82 85.10 L627.90 103.90M635.82 85.10 L643.74 103.90M630.87 97.63 L640.77 97.63M649.80 85.10 L649.80 103.90M669.98 91.37 L669.98 103.90M669.98 94.05 L668.00 92.26 L666.02 91.37 L663.05 91.37 L661.07 92.26 L659.09 94.05 L658.10 96.74 L658.10 98.53 L659.09 101.21 L661.07 103.00 L663.05 103.90 L666.02 103.90 L668.00 103.00 L669.98 101.21M689.09 94.05 L688.10 92.26 L685.13 91.37 L682.16 91.37 L679.19 92.26 L678.20 94.05 L679.19 95.84 L681.17 96.74 L686.12 97.63 L688.10 98.53 L689.09 100.32 L689.09 101.21 L688.10 103.00 L685.13 103.90 L682.16 103.90 L679.19 103.00 L678.20 101.21M695.90 85.10 L695.90 103.90M705.80 91.37 L695.90 100.32M699.86 96.74 L706.79 103.90M725.88 91.37 L725.88 103.90M725.88 94.05 L723.90 92.26 L721.92 91.37 L718.95 91.37 L716.97 92.26 L714.99 94.05 L714.00 96.74 L714.00 98.53 L714.99 101.21 L716.97 103.00 L718.95 103.90 L721.92 103.90 L723.90 103.00 L725.88 101.21M749.92 81.52 L732.10 110.17M761.92 85.10 L754.00 103.90M761.92 85.10 L769.84 103.90M756.97 97.63 L766.87 97.63M775.90 91.37 L775.90 103.90M775.90 96.74 L776.89 94.05 L778.87 92.26 L780.85 91.37 L783.82 91.37M800.78 94.05 L798.80 92.26 L796.82 91.37 L793.85 91.37 L791.87 92.26 L789.89 94.05 L788.90 96.74 L788.90 98.53 L789.89 101.21 L791.87 103.00 L793.85 103.90 L796.82 103.90 L798.80 103.00 L800.78 101.21M811.67 85.10 L811.67 100.32 L812.66 103.00 L814.64 103.90 L816.62 103.90M808.70 91.37 L815.63 91.37M821.10 85.10 L822.09 86.00 L823.08 85.10 L822.09 84.20 L821.10 85.10M822.09 91.37 L822.09 103.90M840.68 94.05 L838.70 92.26 L836.72 91.37 L833.75 91.37 L831.77 92.26 L829.79 94.05 L828.80 96.74 L828.80 98.53 L829.79 101.21 L831.77 103.00 L833.75 103.90 L836.72 103.90 L838.70 103.00 L840.68 101.21M873.53 81.52 L871.55 83.31 L869.57 86.00 L867.59 89.58 L866.60 94.05 L866.60 97.63 L867.59 102.11 L869.57 105.69 L871.55 108.38 L873.53 110.17M882.50 85.10 L882.50 103.90M882.50 94.95 L885.47 92.26 L887.45 91.37 L890.42 91.37 L892.40 92.26 L893.39 94.95 L893.39 103.90M902.00 85.10 L902.00 103.90M902.00 85.10 L910.91 85.10 L913.88 86.00 L914.87 86.89 L915.86 88.68 L915.86 91.37 L914.87 93.16 L913.88 94.05 L910.91 94.95 L902.00 94.95M935.78 91.37 L935.78 103.90M935.78 94.05 L933.80 92.26 L931.82 91.37 L928.85 91.37 L926.87 92.26 L924.89 94.05 L923.90 96.74 L923.90 98.53 L924.89 101.21 L926.87 103.00 L928.85 103.90 L931.82 103.90 L933.80 103.00 L935.78 101.21M944.00 90.47 L947.96 86.89 L951.92 90.47M961.49 89.58 L961.49 88.68 L962.48 86.89 L963.47 86.00 L965.45 85.10 L969.41 85.10 L971.39 86.00 L972.38 86.89 L973.37 88.68 L973.37 90.47 L972.38 92.26 L970.40 94.95 L960.50 103.90 L974.36 103.90M981.80 81.52 L983.78 83.31 L985.76 86.00 L987.74 89.58 L988.73 94.05 L988.73 97.63 L987.74 102.11 L985.76 105.69 L983.78 108.38 L981.80 110.17" fill="none" stroke="#000" stroke-width="2.0" stroke-linecap="round" stroke-linejoin="round" shape-rendering="crispEdges"/>
<path d="M13.90 142.00 L13.90 161.00M13.90 142.00 L23.52 142.00M13.90 151.05 L19.82 151.05M41.00 146.52 L40.26 144.71 L38.78 142.90 L37.30 142.00 L34.34 142.00 L32.86 142.90 L31.38 144.71 L30.64 146.52 L29.90 149.24 L29.90 153.76 L30.64 156.48 L31.38 158.29 L32.86 160.10 L34.34 161.00 L37.30 161.00 L38.78 160.10 L40.26 158.29 L41.00 156.48M56.46 144.71 L54.98 142.90 L52.76 142.00 L49.80 142.00 L47.58 142.90 L46.10 144.71 L46.10 146.52 L46.84 148.33 L47.58 149.24 L49.06 150.14 L53.50 151.95 L54.98 152.86 L55.72 153.76 L56.46 155.57 L56.46 158.29 L54.98 160.10 L52.76 161.00 L49.80 161.00 L47.58 160.10 L46.10 158.29M67.28 142.00 L67.28 161.00M62.10 142.00 L72.46 142.00M90.70 142.00 L90.70 161.00M90.70 142.00 L95.88 142.00 L98.10 142.90 L99.58 144.71 L100.32 146.52 L101.06 149.24 L101.06 153.76 L100.32 156.48 L99.58 158.29 L98.10 160.10 L95.88 161.00 L90.70 161.00M117.88 148.33 L117.88 161.00M117.88 151.05 L116.40 149.24 L114.92 148.33 L112.70 148.33 L111.22 149.24 L109.74 151.05 L109.00 153.76 L109.00 155.57 L109.74 158.29 L111.22 160.10 L112.70 161.00 L114.92 161.00 L116.40 160.10 L117.88 158.29M126.72 142.00 L126.72 157.38 L127.46 160.10 L128.94 161.00 L130.42 161.00M124.50 148.33 L129.68 148.33M133.90 153.76 L142.78 153.76 L142.78 151.95 L142.04 150.14 L141.30 149.24 L139.82 148.33 L137.60 148.33 L136.12 149.24 L134.64 151.05 L133.90 153.76 L133.90 155.57 L134.64 158.29 L136.12 160.10 L137.60 161.00 L139.82 161.00 L141.30 160.10 L142.78 158.29M150.64 148.33 L149.90 149.24 L150.64 150.14 L151.38 149.24 L150.64 148.33M150.64 159.19 L149.90 160.10 L150.64 161.00 L151.38 160.10 L150.64 159.19" fill="none" stroke="#fa3c3c" stroke-width="2.0" stroke-linecap="round" stroke-linejoin="round" shape-rendering="crispEdges"/>
<path d="M14.95 176.53 L14.95 175.64 L15.70 173.87 L16.45 172.99 L17.95 172.10 L20.95 172.10 L22.45 172.99 L23.20 173.87 L23.95 175.64 L23.95 177.41 L23.20 179.19 L21.70 181.84 L14.20 190.70 L24.70 190.70M35.60 172.10 L33.35 172.99 L31.85 175.64 L31.10 180.07 L31.10 182.73 L31.85 187.16 L33.35 189.81 L35.60 190.70 L37.10 190.70 L39.35 189.81 L40.85 187.16 L41.60 182.73 L41.60 180.07 L40.85 175.64 L39.35 172.99 L37.10 172.10 L35.60 172.10M48.25 176.53 L48.25 175.64 L49.00 173.87 L49.75 172.99 L51.25 172.10 L54.25 172.10 L55.75 172.99 L56.50 173.87 L57.25 175.64 L57.25 177.41 L56.50 179.19 L55.00 181.84 L47.50 190.70 L58.00 190.70M71.90 172.10 L64.40 184.50 L75.65 184.50M71.90 172.10 L71.90 190.70M82.55 188.93 L81.80 189.81 L82.55 190.70 L83.30 189.81 L82.55 188.93M92.90 172.10 L90.65 172.99 L89.15 175.64 L88.40 180.07 L88.40 182.73 L89.15 187.16 L90.65 189.81 L92.90 190.70 L94.40 190.70 L96.65 189.81 L98.15 187.16 L98.90 182.73 L98.90 180.07 L98.15 175.64 L96.65 172.99 L94.40 172.10 L92.90 172.10M115.20 174.76 L114.45 172.99 L112.20 172.10 L110.70 172.10 L108.45 172.99 L106.95 175.64 L106.20 180.07 L106.20 184.50 L106.95 188.04 L108.45 189.81 L110.70 190.70 L111.45 190.70 L113.70 189.81 L115.20 188.04 L115.95 185.39 L115.95 184.50 L115.20 181.84 L113.70 180.07 L111.45 179.19 L110.70 179.19 L108.45 180.07 L106.95 181.84 L106.20 184.50M123.45 188.93 L122.70 189.81 L123.45 190.70 L124.20 189.81 L123.45 188.93M130.95 176.53 L130.95 175.64 L131.70 173.87 L132.45 172.99 L133.95 172.10 L136.95 172.10 L138.45 172.99 L139.20 173.87 L139.95 175.64 L139.95 177.41 L139.20 179.19 L137.70 181.84 L130.20 190.70 L140.70 190.70M148.10 172.10 L156.35 172.10 L151.85 179.19 L154.10 179.19 L155.60 180.07 L156.35 180.96 L157.10 183.61 L157.10 185.39 L156.35 188.04 L154.85 189.81 L152.60 190.70 L150.35 190.70 L148.10 189.81 L147.35 188.93 L146.60 187.16" fill="none" stroke="#fa3c3c" stroke-width="2.0" stroke-linecap="round" stroke-linejoin="round" shape-rendering="crispEdges"/>
<path d="M246.40 152.85 L245.56 151.23 L243.88 149.61 L242.20 148.80 L238.84 148.80 L237.16 149.61 L235.48 151.23 L234.64 152.85 L233.80 155.28 L233.80 159.32 L234.64 161.75 L235.48 163.37 L237.16 164.99 L238.84 165.80 L242.20 165.80 L243.88 164.99 L245.56 163.37 L246.40 161.75M253.10 148.80 L253.10 165.80M253.10 148.80 L264.02 148.80M253.10 156.90 L259.82 156.90M282.06 151.23 L280.38 149.61 L277.86 148.80 L274.50 148.80 L271.98 149.61 L270.30 151.23 L270.30 152.85 L271.14 154.47 L271.98 155.28 L273.66 156.09 L278.70 157.70 L280.38 158.51 L281.22 159.32 L282.06 160.94 L282.06 163.37 L280.38 164.99 L277.86 165.80 L274.50 165.80 L271.98 164.99 L270.30 163.37M288.20 154.47 L293.24 165.80M298.28 154.47 L293.24 165.80M304.94 152.85 L304.94 152.04 L305.78 150.42 L306.62 149.61 L308.30 148.80 L311.66 148.80 L313.34 149.61 L314.18 150.42 L315.02 152.04 L315.02 153.66 L314.18 155.28 L312.50 157.70 L304.10 165.80 L315.86 165.80M338.30 148.80 L342.50 165.80M346.70 148.80 L342.50 165.80M346.70 148.80 L350.90 165.80M355.10 148.80 L350.90 165.80M361.90 159.32 L371.98 159.32 L371.98 157.70 L371.14 156.09 L370.30 155.28 L368.62 154.47 L366.10 154.47 L364.42 155.28 L362.74 156.90 L361.90 159.32 L361.90 160.94 L362.74 163.37 L364.42 164.99 L366.10 165.80 L368.62 165.80 L370.30 164.99 L371.98 163.37M379.70 159.32 L389.78 159.32 L389.78 157.70 L388.94 156.09 L388.10 155.28 L386.42 154.47 L383.90 154.47 L382.22 155.28 L380.54 156.90 L379.70 159.32 L379.70 160.94 L380.54 163.37 L382.22 164.99 L383.90 165.80 L386.42 165.80 L388.10 164.99 L389.78 163.37M397.60 148.80 L397.60 165.80M406.00 154.47 L397.60 162.56M400.96 159.32 L406.84 165.80M413.10 158.51 L428.22 158.51M437.84 152.85 L437.84 152.04 L438.68 150.42 L439.52 149.61 L441.20 148.80 L444.56 148.80 L446.24 149.61 L447.08 150.42 L447.92 152.04 L447.92 153.66 L447.08 155.28 L445.40 157.70 L437.00 165.80 L448.76 165.80M471.00 148.80 L471.00 165.80M471.00 148.80 L481.92 148.80M471.00 156.90 L477.72 156.90M493.50 154.47 L491.82 155.28 L490.14 156.90 L489.30 159.32 L489.30 160.94 L490.14 163.37 L491.82 164.99 L493.50 165.80 L496.02 165.80 L497.70 164.99 L499.38 163.37 L500.22 160.94 L500.22 159.32 L499.38 156.90 L497.70 155.28 L496.02 154.47 L493.50 154.47M506.50 154.47 L506.50 165.80M506.50 159.32 L507.34 156.90 L509.02 155.28 L510.70 154.47 L513.22 154.47M518.90 159.32 L528.98 159.32 L528.98 157.70 L528.14 156.09 L527.30 155.28 L525.62 154.47 L523.10 154.47 L521.42 155.28 L519.74 156.90 L518.90 159.32 L518.90 160.94 L519.74 163.37 L521.42 164.99 L523.10 165.80 L525.62 165.80 L527.30 164.99 L528.98 163.37M545.48 156.90 L543.80 155.28 L542.12 154.47 L539.60 154.47 L537.92 155.28 L536.24 156.90 L535.40 159.32 L535.40 160.94 L536.24 163.37 L537.92 164.99 L539.60 165.80 L542.12 165.80 L543.80 164.99 L545.48 163.37M562.58 154.47 L562.58 165.80M562.58 156.90 L560.90 155.28 L559.22 154.47 L556.70 154.47 L555.02 155.28 L553.34 156.90 L552.50 159.32 L552.50 160.94 L553.34 163.37 L555.02 164.99 L556.70 165.80 L559.22 165.80 L560.90 164.99 L562.58 163.37M580.14 156.90 L579.30 155.28 L576.78 154.47 L574.26 154.47 L571.74 155.28 L570.90 156.90 L571.74 158.51 L573.42 159.32 L577.62 160.13 L579.30 160.94 L580.14 162.56 L580.14 163.37 L579.30 164.99 L576.78 165.80 L574.26 165.80 L571.74 164.99 L570.90 163.37M590.52 148.80 L590.52 162.56 L591.36 164.99 L593.04 165.80 L594.72 165.80M588.00 154.47 L593.88 154.47" fill="none" stroke="#000" stroke-width="2.0" stroke-linecap="round" stroke-linejoin="round" shape-rendering="crispEdges"/>
<path d="M1099.80 148.80 L1106.60 165.70M1113.40 148.80 L1106.60 165.70M1117.90 159.26 L1128.10 159.26 L1128.10 157.65 L1127.25 156.04 L1126.40 155.24 L1124.70 154.43 L1122.15 154.43 L1120.45 155.24 L1118.75 156.85 L1117.90 159.26 L1117.90 160.87 L1118.75 163.29 L1120.45 164.90 L1122.15 165.70 L1124.70 165.70 L1126.40 164.90 L1128.10 163.29M1135.00 154.43 L1135.00 165.70M1135.00 159.26 L1135.85 156.85 L1137.55 155.24 L1139.25 154.43 L1141.80 154.43M1147.90 148.80 L1148.75 149.60 L1149.60 148.80 L1148.75 148.00 L1147.90 148.80M1148.75 154.43 L1148.75 165.70M1162.90 148.80 L1161.20 148.80 L1159.50 149.60 L1158.65 152.02 L1158.65 165.70M1156.10 154.43 L1162.05 154.43M1166.80 148.80 L1167.65 149.60 L1168.50 148.80 L1167.65 148.00 L1166.80 148.80M1167.65 154.43 L1167.65 165.70M1184.10 156.85 L1182.40 155.24 L1180.70 154.43 L1178.15 154.43 L1176.45 155.24 L1174.75 156.85 L1173.90 159.26 L1173.90 160.87 L1174.75 163.29 L1176.45 164.90 L1178.15 165.70 L1180.70 165.70 L1182.40 164.90 L1184.10 163.29M1201.20 154.43 L1201.20 165.70M1201.20 156.85 L1199.50 155.24 L1197.80 154.43 L1195.25 154.43 L1193.55 155.24 L1191.85 156.85 L1191.00 159.26 L1191.00 160.87 L1191.85 163.29 L1193.55 164.90 L1195.25 165.70 L1197.80 165.70 L1199.50 164.90 L1201.20 163.29M1211.35 148.80 L1211.35 162.48 L1212.20 164.90 L1213.90 165.70 L1215.60 165.70M1208.80 154.43 L1214.75 154.43M1219.90 148.80 L1220.75 149.60 L1221.60 148.80 L1220.75 148.00 L1219.90 148.80M1220.75 154.43 L1220.75 165.70M1230.95 154.43 L1229.25 155.24 L1227.55 156.85 L1226.70 159.26 L1226.70 160.87 L1227.55 163.29 L1229.25 164.90 L1230.95 165.70 L1233.50 165.70 L1235.20 164.90 L1236.90 163.29 L1237.75 160.87 L1237.75 159.26 L1236.90 156.85 L1235.20 155.24 L1233.50 154.43 L1230.95 154.43M1246.00 154.43 L1246.00 165.70M1246.00 157.65 L1248.55 155.24 L1250.25 154.43 L1252.80 154.43 L1254.50 155.24 L1255.35 157.65 L1255.35 165.70M1264.95 154.43 L1264.10 155.24 L1264.95 156.04 L1265.80 155.24 L1264.95 154.43M1264.95 164.09 L1264.10 164.90 L1264.95 165.70 L1265.80 164.90 L1264.95 164.09M1301.45 152.82 L1300.60 151.21 L1298.90 149.60 L1297.20 148.80 L1293.80 148.80 L1292.10 149.60 L1290.40 151.21 L1289.55 152.82 L1288.70 155.24 L1288.70 159.26 L1289.55 161.68 L1290.40 163.29 L1292.10 164.90 L1293.80 165.70 L1297.20 165.70 L1298.90 164.90 L1300.60 163.29 L1301.45 161.68M1308.90 148.80 L1308.90 165.70M1308.90 148.80 L1319.95 148.80M1308.90 156.85 L1315.70 156.85M1337.90 151.21 L1336.20 149.60 L1333.65 148.80 L1330.25 148.80 L1327.70 149.60 L1326.00 151.21 L1326.00 152.82 L1326.85 154.43 L1327.70 155.24 L1329.40 156.04 L1334.50 157.65 L1336.20 158.46 L1337.05 159.26 L1337.90 160.87 L1337.90 163.29 L1336.20 164.90 L1333.65 165.70 L1330.25 165.70 L1327.70 164.90 L1326.00 163.29M1344.90 148.80 L1344.90 165.70M1344.90 148.80 L1352.55 148.80 L1355.10 149.60 L1355.95 150.41 L1356.80 152.02 L1356.80 153.63 L1355.95 155.24 L1355.10 156.04 L1352.55 156.85 L1344.90 156.85M1350.85 156.85 L1356.80 165.70" fill="none" stroke="#000" stroke-width="2.0" stroke-linecap="round" stroke-linejoin="round" shape-rendering="crispEdges"/>
<path d="M385.96 197.90 L385.96 216.00M379.80 197.90 L392.12 197.90M400.20 203.93 L398.44 204.80 L396.68 206.52 L395.80 209.10 L395.80 210.83 L396.68 213.41 L398.44 215.14 L400.20 216.00 L402.84 216.00 L404.60 215.14 L406.36 213.41 L407.24 210.83 L407.24 209.10 L406.36 206.52 L404.60 204.80 L402.84 203.93 L400.20 203.93M416.64 197.90 L416.64 212.55 L417.52 215.14 L419.28 216.00 L421.04 216.00M414.00 203.93 L420.16 203.93M435.46 203.93 L435.46 216.00M435.46 206.52 L433.70 204.80 L431.94 203.93 L429.30 203.93 L427.54 204.80 L425.78 206.52 L424.90 209.10 L424.90 210.83 L425.78 213.41 L427.54 215.14 L429.30 216.00 L431.94 216.00 L433.70 215.14 L435.46 213.41M442.80 197.90 L442.80 216.00" fill="none" stroke="#0a1eff" stroke-width="2.0" stroke-linecap="round" stroke-linejoin="round" shape-rendering="crispEdges"/>
<path d="M1202.96 197.90 L1202.96 216.00M1196.80 197.90 L1209.12 197.90M1217.20 203.93 L1215.44 204.80 L1213.68 206.52 L1212.80 209.10 L1212.80 210.83 L1213.68 213.41 L1215.44 215.14 L1217.20 216.00 L1219.84 216.00 L1221.60 215.14 L1223.36 213.41 L1224.24 210.83 L1224.24 209.10 L1223.36 206.52 L1221.60 204.80 L1219.84 203.93 L1217.20 203.93M1234.64 197.90 L1234.64 212.55 L1235.52 215.14 L1237.28 216.00 L1239.04 216.00M1232.00 203.93 L1238.16 203.93M1252.46 203.93 L1252.46 216.00M1252.46 206.52 L1250.70 204.80 L1248.94 203.93 L1246.30 203.93 L1244.54 204.80 L1242.78 206.52 L1241.90 209.10 L1241.90 210.83 L1242.78 213.41 L1244.54 215.14 L1246.30 216.00 L1248.94 216.00 L1250.70 215.14 L1252.46 213.41M1259.80 197.90 L1259.80 216.00" fill="none" stroke="#0a1eff" stroke-width="2.0" stroke-linecap="round" stroke-linejoin="round" shape-rendering="crispEdges"/>
<path d="M359.86 721.80 L352.90 739.00M359.86 721.80 L366.82 739.00M355.51 733.27 L364.21 733.27M373.00 727.53 L373.00 739.00M373.00 730.81 L375.61 728.35 L377.35 727.53 L379.96 727.53 L381.70 728.35 L382.57 730.81 L382.57 739.00M394.35 727.53 L392.61 728.35 L390.87 729.99 L390.00 732.45 L390.00 734.09 L390.87 736.54 L392.61 738.18 L394.35 739.00 L396.96 739.00 L398.70 738.18 L400.44 736.54 L401.31 734.09 L401.31 732.45 L400.44 729.99 L398.70 728.35 L396.96 727.53 L394.35 727.53M407.90 727.53 L407.90 739.00M407.90 730.81 L410.51 728.35 L412.25 727.53 L414.86 727.53 L416.60 728.35 L417.47 730.81 L417.47 739.00M417.47 730.81 L420.08 728.35 L421.82 727.53 L424.43 727.53 L426.17 728.35 L427.04 730.81 L427.04 739.00M446.44 727.53 L446.44 739.00M446.44 729.99 L444.70 728.35 L442.96 727.53 L440.35 727.53 L438.61 728.35 L436.87 729.99 L436.00 732.45 L436.00 734.09 L436.87 736.54 L438.61 738.18 L440.35 739.00 L442.96 739.00 L444.70 738.18 L446.44 736.54M453.70 721.80 L453.70 739.00M460.47 727.53 L465.69 739.00M470.91 727.53 L465.69 739.00 L463.95 742.28 L462.21 743.91 L460.47 744.73 L459.60 744.73" fill="none" stroke="#0a1eff" stroke-width="2.0" stroke-linecap="round" stroke-linejoin="round" shape-rendering="crispEdges"/>
<path d="M1177.06 721.80 L1170.10 739.00M1177.06 721.80 L1184.02 739.00M1172.71 733.27 L1181.41 733.27M1189.60 727.53 L1189.60 739.00M1189.60 730.81 L1192.21 728.35 L1193.95 727.53 L1196.56 727.53 L1198.30 728.35 L1199.17 730.81 L1199.17 739.00M1211.25 727.53 L1209.51 728.35 L1207.77 729.99 L1206.90 732.45 L1206.90 734.09 L1207.77 736.54 L1209.51 738.18 L1211.25 739.00 L1213.86 739.00 L1215.60 738.18 L1217.34 736.54 L1218.21 734.09 L1218.21 732.45 L1217.34 729.99 L1215.60 728.35 L1213.86 727.53 L1211.25 727.53M1226.00 727.53 L1226.00 739.00M1226.00 730.81 L1228.61 728.35 L1230.35 727.53 L1232.96 727.53 L1234.70 728.35 L1235.57 730.81 L1235.57 739.00M1235.57 730.81 L1238.18 728.35 L1239.92 727.53 L1242.53 727.53 L1244.27 728.35 L1245.14 730.81 L1245.14 739.00M1263.24 727.53 L1263.24 739.00M1263.24 729.99 L1261.50 728.35 L1259.76 727.53 L1257.15 727.53 L1255.41 728.35 L1253.67 729.99 L1252.80 732.45 L1252.80 734.09 L1253.67 736.54 L1255.41 738.18 L1257.15 739.00 L1259.76 739.00 L1261.50 738.18 L1263.24 736.54M1271.00 721.80 L1271.00 739.00M1277.77 727.53 L1282.99 739.00M1288.21 727.53 L1282.99 739.00 L1281.25 742.28 L1279.51 743.91 L1277.77 744.73 L1276.90 744.73" fill="none" stroke="#0a1eff" stroke-width="2.0" stroke-linecap="round" stroke-linejoin="round" shape-rendering="crispEdges"/>
</svg></body></html>
